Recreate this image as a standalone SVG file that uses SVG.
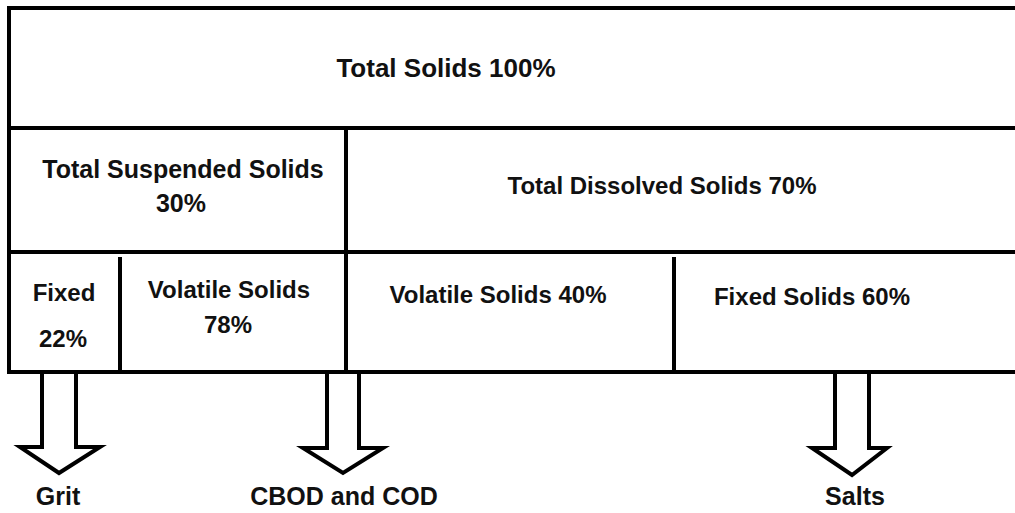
<svg xmlns="http://www.w3.org/2000/svg" width="1015" height="513" viewBox="0 0 1015 513">
<style>
.ln{stroke:#000;stroke-width:4;fill:none}
.ar{stroke:#000;stroke-width:4;fill:#fff;stroke-linejoin:miter}
.t{font-family:"Liberation Sans",Arial,sans-serif;font-weight:bold;font-size:24px;fill:#111;text-anchor:middle}
.big{font-size:26px}
.m{font-size:25px}
</style>
<rect width="1015" height="513" fill="#fff"/>
<g id="frame">
<path class="ln" d="M1020,8 H9 V372 H1020"/>
</g>
<g id="total-solids">
<line class="ln" x1="9" y1="128" x2="1020" y2="128"/>
<text class="t big" x="446" y="77">Total Solids 100%</text>
</g>
<g id="tss">
<line class="ln" x1="9" y1="252" x2="1020" y2="252"/>
<line class="ln" x1="346" y1="130" x2="346" y2="372"/>
<text class="t m" x="183" y="178">Total Suspended Solids</text>
<text class="t m" x="181" y="212">30%</text>
</g>
<g id="tds">
<text class="t" x="662" y="194">Total Dissolved Solids 70%</text>
</g>
<g id="fixed-22">
<line class="ln" x1="120" y1="257" x2="120" y2="372"/>
<text class="t" x="64" y="301">Fixed</text>
<text class="t" x="63" y="347">22%</text>
</g>
<g id="volatile-78">
<text class="t" x="229" y="298">Volatile Solids</text>
<text class="t" x="228" y="333">78%</text>
</g>
<g id="volatile-40">
<line class="ln" x1="674" y1="257" x2="674" y2="372"/>
<text class="t" x="498" y="303">Volatile Solids 40%</text>
</g>
<g id="fixed-60">
<text class="t" x="812" y="305">Fixed Solids 60%</text>
</g>
<g id="connectors">
<path class="ar" d="M42,374 V447 H20 L59,473 L100,447 H76 V374"/>
<path class="ar" d="M327,374 V448 H303 L343,473 L383,448 H359 V374"/>
<path class="ar" d="M835,374 V448 H812 L852,475 L887,448 H869 V374"/>
</g>
<g id="grit"><text class="t m" x="58" y="505">Grit</text></g>
<g id="cbod"><text class="t m" x="344" y="505">CBOD and COD</text></g>
<g id="salts"><text class="t m" x="855" y="505">Salts</text></g>
</svg>
